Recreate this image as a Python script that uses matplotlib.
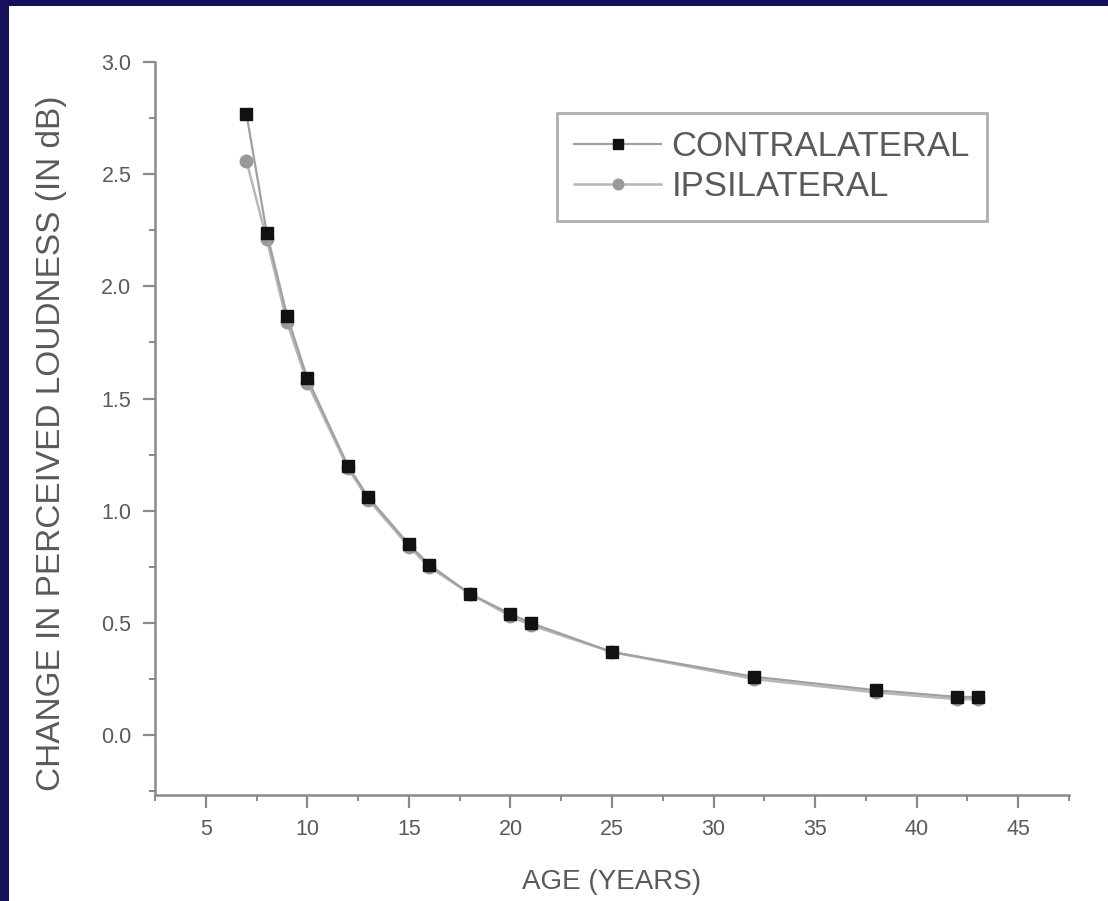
import matplotlib
matplotlib.use("Agg")
import matplotlib.pyplot as plt
from matplotlib.patches import Rectangle
from matplotlib.ticker import MultipleLocator

age = [7, 8, 9, 10, 12, 13, 15, 16, 18, 20, 21, 25, 32, 38, 42, 43]
contralateral = [2.77, 2.24, 1.87, 1.59, 1.20, 1.06, 0.85, 0.76, 0.63, 0.54, 0.50, 0.37, 0.26, 0.20, 0.17, 0.17]
ipsilateral = [2.56, 2.21, 1.84, 1.57, 1.19, 1.05, 0.84, 0.75, 0.63, 0.53, 0.49, 0.37, 0.25, 0.19, 0.16, 0.16]
x_ticks = [5, 10, 15, 20, 25, 30, 35, 40, 45]
y_ticks = [0.0, 0.5, 1.0, 1.5, 2.0, 2.5, 3.0]

plt.rcParams['font.family'] = ['Liberation Sans', 'DejaVu Sans']

W, H = 1108, 901
fig = plt.figure(figsize=(W / 100, H / 100), dpi=100)
fig.patch.set_facecolor('#14105a')
bg = Rectangle((9 / W, 0), 1, 1 - 6 / H, transform=fig.transFigure,
               facecolor='white', edgecolor='none', zorder=-10)
fig.add_artist(bg)

ax = fig.add_axes([155 / W, 1 - 795 / H, (1069 - 155) / W, (795 - 62) / H])
ax.set_zorder(1)
ax.set_facecolor('white')
ax.set_xlim(2.5, 47.5)
ax.set_ylim(-0.267, 3.0)

txt = '#5a5a5a'
sp = '#8a8a8a'

l2, = ax.plot(age, ipsilateral, color='#b8b8b8', lw=1.8, marker='o', ms=9,
              mfc='#999999', mec='#999999', label='IPSILATERAL', zorder=2)
l1, = ax.plot(age, contralateral, color='#a0a0a0', lw=1.6, marker='s', ms=9,
              mfc='#111111', mec='#111111', label='CONTRALATERAL', zorder=3)

for s in ['top', 'right']:
    ax.spines[s].set_visible(False)
for s in ['left', 'bottom']:
    ax.spines[s].set_color(sp)
    ax.spines[s].set_linewidth(1.8)

ax.set_xticks(x_ticks)
ax.set_yticks(y_ticks)
ax.set_yticklabels([f'{v:.1f}' for v in y_ticks])
ax.xaxis.set_minor_locator(MultipleLocator(2.5))
ax.yaxis.set_minor_locator(MultipleLocator(0.25))
ax.tick_params(which='major', length=9, width=1.6, color=sp, labelsize=15.5,
               labelcolor=txt, pad=8)
ax.tick_params(which='minor', length=4.5, width=1.4, color=sp)

ax.set_xlabel('AGE (YEARS)', fontsize=20, color=txt, labelpad=21)
ax.set_ylabel('CHANGE IN PERCEIVED LOUDNESS (IN dB)', fontsize=24, color=txt)
ax.yaxis.set_label_coords(-0.096, 0.48)

leg = ax.legend(handles=[l1, l2], loc='upper left',
                bbox_to_anchor=(557 / W, 1 - 113 / H), bbox_transform=fig.transFigure,
                fontsize=25, frameon=True, fancybox=False, handlelength=2.5,
                handletextpad=0.3, borderpad=0.5, labelspacing=0.2,
                borderaxespad=0, markerscale=0.85)
leg.get_frame().set_edgecolor('#9a9a9a')
leg.get_frame().set_linewidth(2)
for t in leg.get_texts():
    t.set_color(txt)

fig.savefig('out.png', dpi=100, facecolor=fig.get_facecolor())
